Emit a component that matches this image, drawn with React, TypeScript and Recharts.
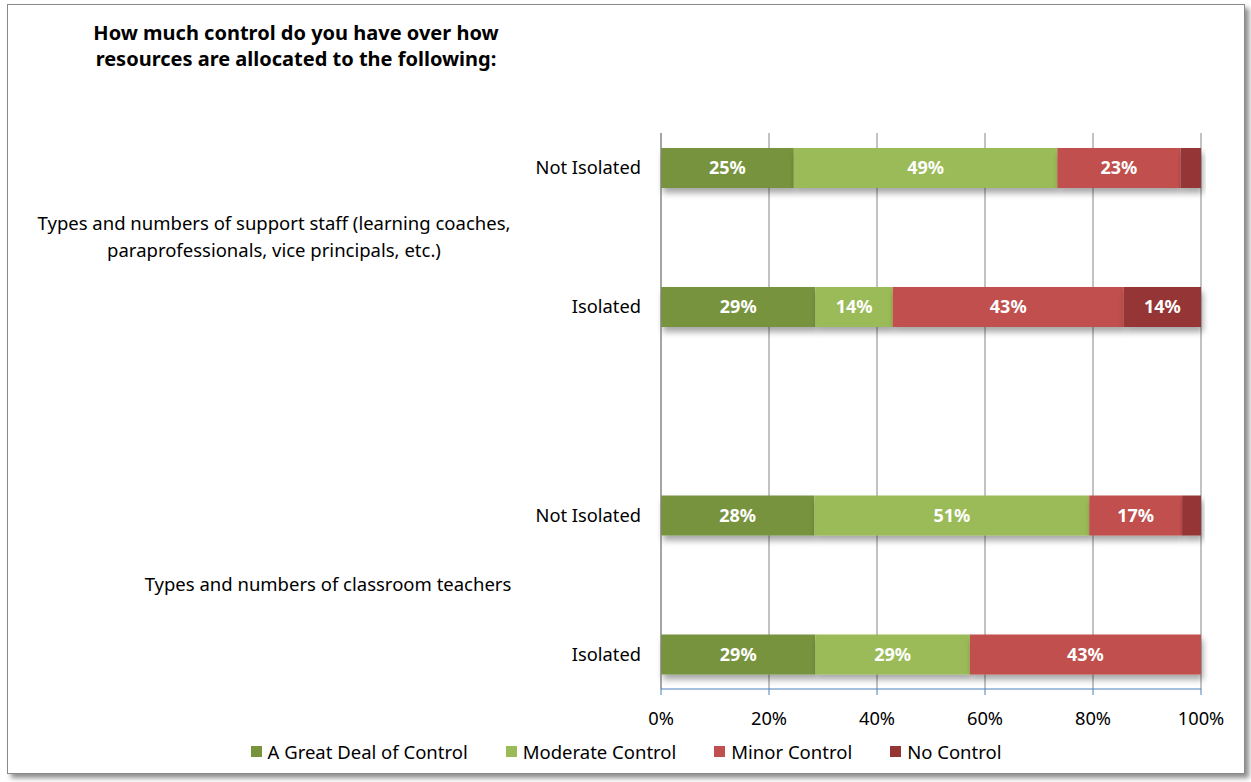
import React from 'react'
import { BarChart, Bar, XAxis, YAxis, CartesianGrid, LabelList, Legend } from 'recharts'

const title = ['How much control do you have over how', 'resources are allocated to the following:']

const groupLines = [
  ['Types and numbers of support staff (learning coaches,', 'paraprofessionals, vice principals, etc.)'],
  ['Types and numbers of classroom teachers'],
]
const subLabels = ['Not Isolated', 'Isolated']

// rows: support/not isolated, support/isolated, teachers/not isolated, teachers/isolated
const greatDeal = [24.6, 28.6, 28.4, 28.6]
const moderate = [48.8, 14.3, 50.9, 28.6]
const minor = [22.8, 42.8, 17.2, 42.8]
const noControl = [3.8, 14.3, 3.5, 0]

const seriesNames = ['A Great Deal of Control', 'Moderate Control', 'Minor Control', 'No Control']
const colors = ['#77933c', '#9bbb59', '#c0504d', '#963634']
const xTicks = [0, 20, 40, 60, 80, 100]

const FONT = "'Noto Sans', 'Open Sans', sans-serif"
const groupCenterX = [266, 320]

// build table, with spacer rows to reproduce the category spacing
const rowOf = (i: number) => ({
  key: `r${i}`,
  kind: 'bar',
  label: subLabels[i % 2],
  s0: greatDeal[i],
  s1: moderate[i],
  s2: minor[i],
  s3: noControl[i],
})
const spacer = (key: string, group?: number) => ({ key, kind: 'gap', group })
const data: any[] = [
  rowOf(0), spacer('g0', 0), rowOf(1), spacer('e1'), spacer('e2'), rowOf(2), spacer('g1', 1), rowOf(3),
]

const YTick = (props: any) => {
  const { x, y, payload } = props
  const row = data.find(d => d.key === payload.value)
  if (!row) return null
  if (row.kind === 'bar') {
    return (
      <text x={x - 12} y={y} dy="0.35em" textAnchor="end" fontFamily={FONT} fontSize={18.3} fill="#000">
        {row.label}
      </text>
    )
  }
  if (row.group === undefined) return null
  const lines = groupLines[row.group]
  const lh = 27
  const startY = y - ((lines.length - 1) * lh) / 2
  return (
    <text textAnchor="middle" fontFamily={FONT} fontSize={18.5} fill="#000">
      {lines.map((l, i) => (
        <tspan key={i} x={groupCenterX[row.group]} y={startY + i * lh} dy="0.35em">{l}</tspan>
      ))}
    </text>
  )
}

const ShadowBar = (props: any) => {
  const { x, y, width, height, fill } = props
  if (!width || width <= 0) return null
  return <rect x={x} y={y} width={width} height={height} fill={fill} filter="url(#barShadow)" />
}

const LegendContent = () => (
  <div style={{ display: 'flex', justifyContent: 'center', gap: 38, fontFamily: FONT, fontSize: 18.5, color: '#000' }}>
    {seriesNames.map((n, i) => (
      <div key={n} style={{ display: 'flex', alignItems: 'center' }}>
        <span style={{ width: 11, height: 11, background: colors[i], marginRight: 6, display: 'inline-block' }} />
        {n}
      </div>
    ))}
  </div>
)

export default function App() {
  return (
    <div style={{ position: 'relative', width: 1251, height: 782 }}>
      <style>{'body{margin:0}'}</style>
      <svg width={0} height={0} style={{ position: 'absolute' }}>
        <defs>
          <filter id="barShadow" x="-10%" y="-30%" width="130%" height="190%">
            <feDropShadow dx={2} dy={5} stdDeviation={3} floodColor="#000" floodOpacity={0.35} />
          </filter>
        </defs>
      </svg>
      <div
        style={{
          position: 'absolute', left: 7, top: 4, width: 1236, height: 768,
          border: '1px solid #8a8a8a', background: '#fff',
          boxShadow: '4px 4px 5px rgba(0,0,0,0.45)',
        }}
      >
        <div style={{ position: 'absolute', left: 0, top: 15, width: 576, textAlign: 'center', fontFamily: FONT, fontWeight: 700, fontSize: 20, lineHeight: '26px', color: '#000' }}>
          {title.map(t => <div key={t}>{t}</div>)}
        </div>
        <BarChart
          width={1236}
          height={768}
          data={data}
          layout="vertical"
          margin={{ top: 128, right: 43, bottom: 0, left: 0 }}
          barSize={40}
        >
          <CartesianGrid horizontal={false} stroke="#868686" />
          <XAxis
            type="number"
            domain={[0, 100]}
            ticks={xTicks}
            tickFormatter={v => `${v}%`}
            axisLine={{ stroke: '#4a7ebb' }}
            tickLine={{ stroke: '#4a7ebb' }}
            tickSize={6}
            tick={{ fontFamily: FONT, fontSize: 18.3, fill: '#000', dy: 15 }}
            height={59}
            interval={0}
          />
          <YAxis
            type="category"
            dataKey="key"
            width={653}
            axisLine={{ stroke: '#868686' }}
            tickLine={false}
            tick={<YTick />}
            interval={0}
          />
          {seriesNames.map((n, i) => (
            <Bar key={n} dataKey={`s${i}`} name={n} stackId="a" fill={colors[i]} shape={<ShadowBar />} isAnimationActive={false}>
              <LabelList
                dataKey={`s${i}`}
                position="center"
                fill="#fff"
                fontFamily={FONT}
                fontWeight={700}
                fontSize={18}
                formatter={(v: any) => (typeof v === 'number' && v >= 5 ? `${Math.round(v)}%` : '')}
              />
            </Bar>
          ))}
          <Legend
            content={<LegendContent />}
            wrapperStyle={{ position: 'absolute', left: 0, width: 1236, top: 734 }}
          />
        </BarChart>
      </div>
    </div>
  )
}
